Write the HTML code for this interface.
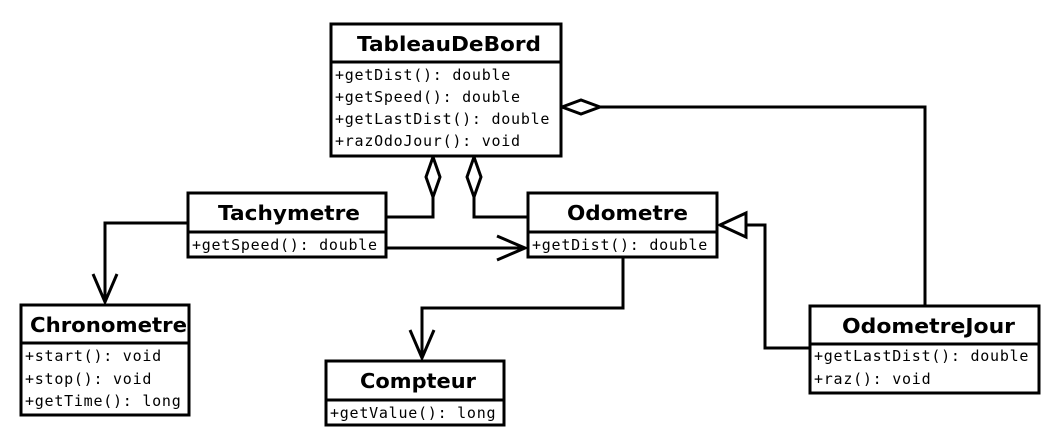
<!DOCTYPE html>
<html><head><meta charset="utf-8"><style>
body{margin:0;background:#fff;width:1057px;height:445px;overflow:hidden}
svg{display:block}
.t{font-family:"DejaVu Sans","Liberation Sans",sans-serif;font-weight:bold;font-size:20px}
.m{font-family:"DejaVu Sans Mono","Liberation Mono",monospace;font-size:15px;letter-spacing:0.75px}
</style></head><body>
<svg width="1057" height="445" viewBox="0 0 1057 445" xmlns="http://www.w3.org/2000/svg">
<g fill="none" stroke="#000" stroke-width="3">
<polyline points="387,217 433,217 433,197"/>
<polygon points="433,157 440,177 433,197 426,177" fill="#fff"/>
<polyline points="527,217 474,217 474,197"/>
<polygon points="474,157 481,177 474,197 467,177" fill="#fff"/>
<line x1="387" y1="248" x2="525" y2="248"/>
<polyline points="497,236 525,248 497,260"/>
<polyline points="187,223 105,223 105,302"/>
<polyline points="93,274 105,302 117,274"/>
<polyline points="623,258 623,308 422,308 422,358"/>
<polyline points="410,330 422,358 434,330"/>
<polyline points="925,305 925,107 600,107"/>
<polygon points="562,107 581,100 600,107 581,114" fill="#fff"/>
<polyline points="809,348 765,348 765,225 746,225"/>
<polygon points="720,225 746,213 746,237" fill="#fff"/>
<rect x="331" y="24" width="230" height="132" fill="#fff"/><line x1="331" y1="62" x2="561" y2="62"/>
<rect x="188" y="193" width="198" height="64" fill="#fff"/><line x1="188" y1="232" x2="386" y2="232"/>
<rect x="528" y="193" width="189" height="64" fill="#fff"/><line x1="528" y1="232" x2="717" y2="232"/>
<rect x="21" y="305" width="168" height="110" fill="#fff"/><line x1="21" y1="343" x2="189" y2="343"/>
<rect x="326" y="361" width="178" height="64" fill="#fff"/><line x1="326" y1="400" x2="504" y2="400"/>
<rect x="810" y="306" width="229" height="87" fill="#fff"/><line x1="810" y1="344" x2="1039" y2="344"/>
</g>
<g fill="#000">
<text class="t" x="357" y="51" textLength="184" lengthAdjust="spacingAndGlyphs">TableauDeBord</text>
<text class="m" x="335" y="80">+getDist(): double</text>
<text class="m" x="335" y="102">+getSpeed(): double</text>
<text class="m" x="335" y="124">+getLastDist(): double</text>
<text class="m" x="335" y="146">+razOdoJour(): void</text>
<text class="t" x="218" y="220" textLength="142" lengthAdjust="spacingAndGlyphs">Tachymetre</text>
<text class="m" x="192" y="250">+getSpeed(): double</text>
<text class="t" x="567" y="220" textLength="121" lengthAdjust="spacingAndGlyphs">Odometre</text>
<text class="m" x="532" y="250">+getDist(): double</text>
<text class="t" x="30" y="332" textLength="157" lengthAdjust="spacingAndGlyphs">Chronometre</text>
<text class="m" x="25" y="361">+start(): void</text>
<text class="m" x="25" y="384">+stop(): void</text>
<text class="m" x="25" y="406">+getTime(): long</text>
<text class="t" x="360" y="388" textLength="116" lengthAdjust="spacingAndGlyphs">Compteur</text>
<text class="m" x="330" y="418">+getValue(): long</text>
<text class="t" x="842" y="333" textLength="173" lengthAdjust="spacingAndGlyphs">OdometreJour</text>
<text class="m" x="814" y="361">+getLastDist(): double</text>
<text class="m" x="814" y="384">+raz(): void</text>
</g>
</svg>
</body></html>
